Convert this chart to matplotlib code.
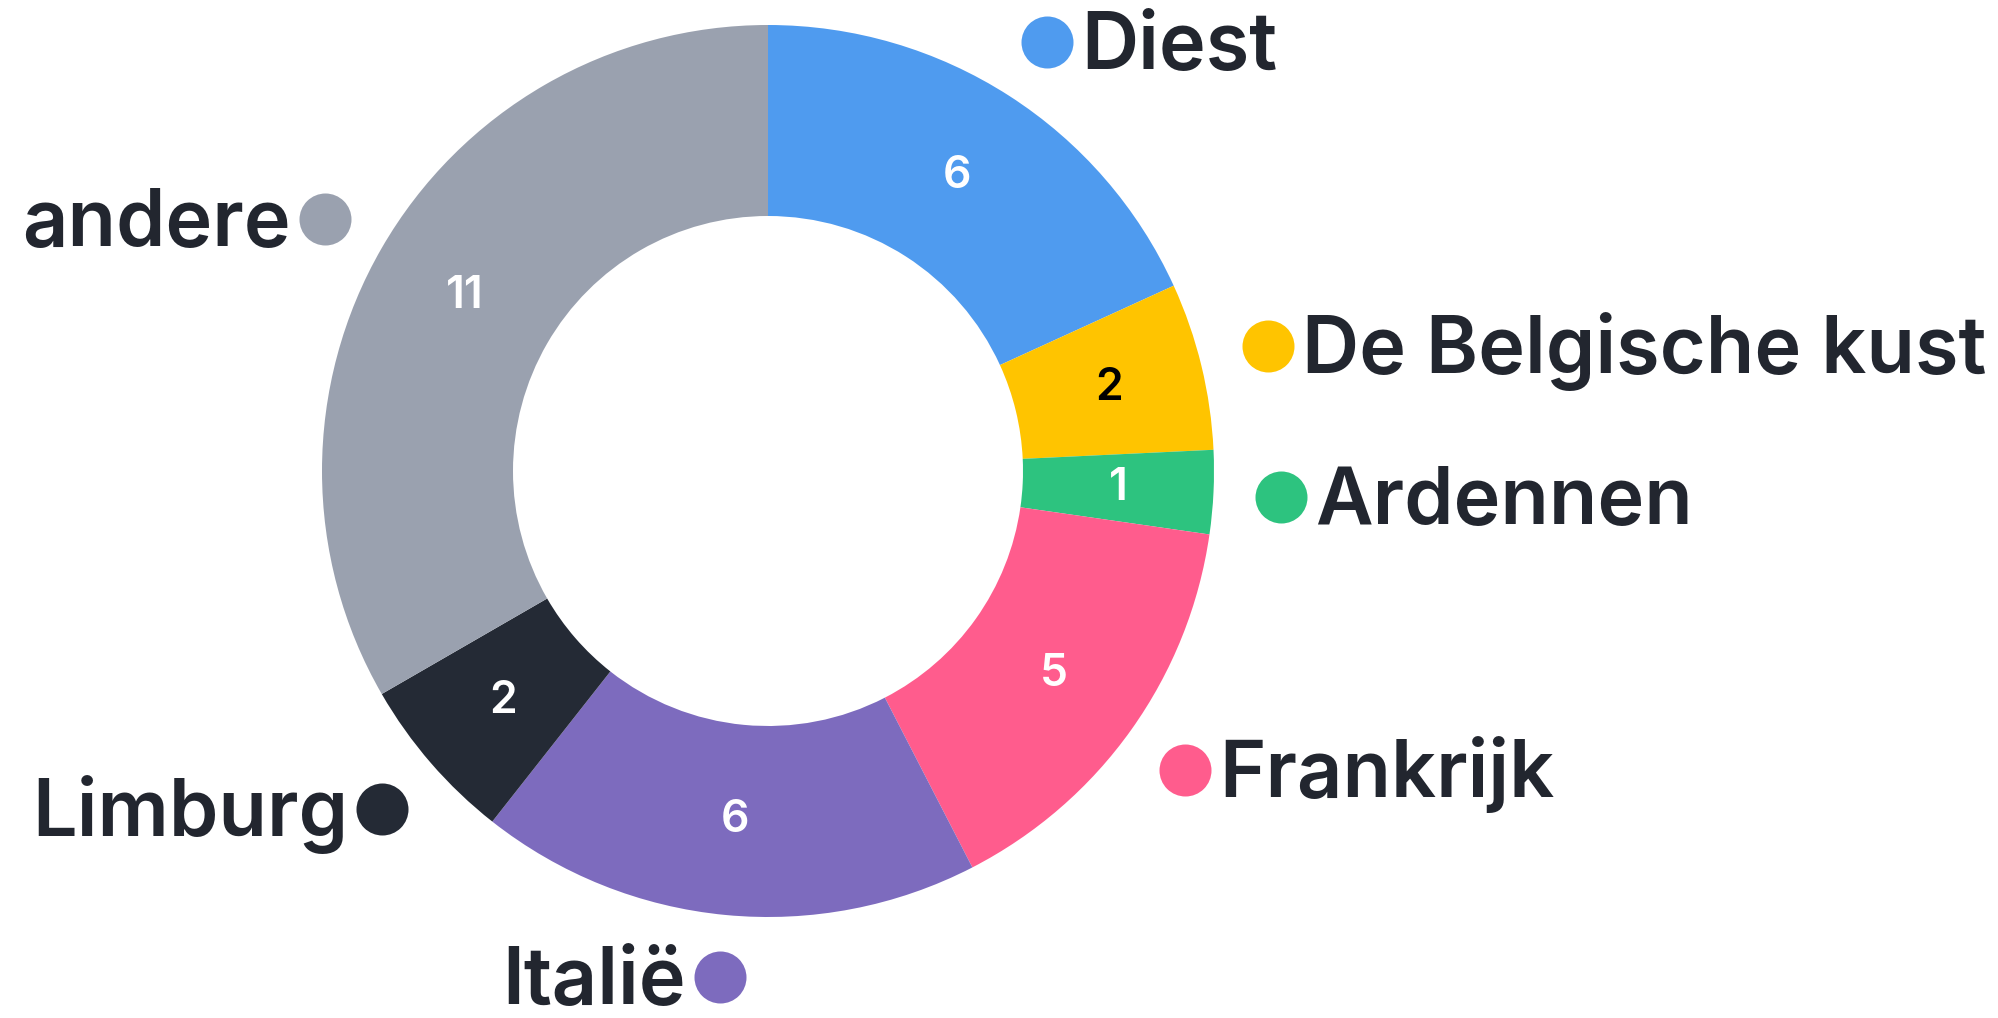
import matplotlib.pyplot as plt

W, H = 1998, 1018

categories = ["Diest", "De Belgische kust", "Ardennen", "Frankrijk", "Italië", "Limburg", "andere"]
values = [6, 2, 1, 5, 6, 2, 11]
colors = ["#4f9bef", "#ffc400", "#2dc37f", "#ff5c8d", "#7d6bbe", "#242a35", "#9aa1af"]
value_text_colors = ["white", "black", "white", "white", "white", "white", "white"]

# label layout: dot centre (image px), side of text
label_pos = [
    (1047, 42, "right"),
    (1268, 346, "right"),
    (1281, 497, "right"),
    (1185, 770, "right"),
    (720, 977, "left"),
    (382, 809, "left"),
    (325, 219, "left"),
]

plt.rcParams["font.family"] = ["Inter", "DejaVu Sans"]
text_color = "#22262f"

fig = plt.figure(figsize=(W / 100, H / 100), dpi=100)
ax = fig.add_axes([0, 0, 1, 1])

cx, cy = 768, H - 471
R, r_in = 446, 255
total = sum(values)

wedges, _, autotexts = ax.pie(
    values,
    colors=colors,
    startangle=90,
    counterclock=False,
    center=(cx, cy),
    radius=R,
    wedgeprops=dict(width=R - r_in, linewidth=0),
    autopct=lambda p: "%d" % round(p * total / 100),
    pctdistance=(R + r_in) / 2 / R,
    textprops=dict(fontsize=32, fontweight="semibold"),
)
for t, c in zip(autotexts, value_text_colors):
    t.set_color(c)

for name, col, (dx, dy, side) in zip(categories, colors, label_pos):
    y = H - dy
    ax.scatter([dx], [y], s=(52 * 0.72) ** 2, color=col, zorder=3, linewidths=0)
    if side == "right":
        ax.text(dx + 34, y - 27, name, ha="left", va="baseline",
                fontsize=57, color=text_color, fontweight="semibold")
    else:
        ax.text(dx - 34, y - 27, name, ha="right", va="baseline",
                fontsize=57, color=text_color, fontweight="semibold")

ax.set_xlim(0, W)
ax.set_ylim(0, H)
ax.set_aspect("equal")
ax.axis("off")

fig.savefig("out.png", dpi=100, facecolor="white")
